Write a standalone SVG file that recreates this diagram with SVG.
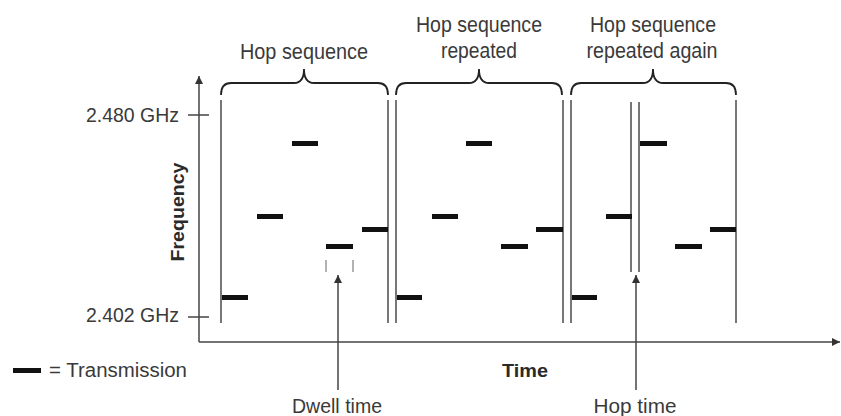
<svg xmlns="http://www.w3.org/2000/svg" width="841" height="416" viewBox="0 0 841 416">
<defs>
<style>
.t{font-family:"Liberation Sans",Arial,sans-serif;font-size:20px;fill:#3a3a3a}
.h{font-family:"Liberation Sans",Arial,sans-serif;font-size:22px;fill:#3a3a3a}
.b{font-family:"Liberation Sans",Arial,sans-serif;font-size:19px;font-weight:bold;fill:#2a2a2a}
.ax{stroke:#444;stroke-width:1.5;fill:none}
.v{stroke:#555;stroke-width:1.6;fill:none}
.br{stroke:#222;stroke-width:1.8;fill:none}
.d{fill:#111}
.dw{stroke:#999;stroke-width:1.5}
</style>
<marker id="ah" viewBox="0 0 10 10" refX="10" refY="5" markerWidth="8" markerHeight="10" markerUnits="userSpaceOnUse" orient="auto">
<path d="M0,0 L10,5 L0,10 z" fill="#333"/>
</marker>
</defs>
<rect width="841" height="416" fill="#fff"/>

<g id="axes">
<line class="ax" x1="199" y1="342" x2="199" y2="76" marker-end="url(#ah)"/>
<line class="ax" x1="199" y1="342" x2="840" y2="342" marker-end="url(#ah)"/>
<line class="ax" x1="188" y1="115" x2="209" y2="115"/>
<line class="ax" x1="188" y1="317" x2="209" y2="317"/>
<text class="t" x="179" y="122" text-anchor="end" textLength="93" lengthAdjust="spacingAndGlyphs">2.480 GHz</text>
<text class="t" x="179" y="322" text-anchor="end" textLength="93" lengthAdjust="spacingAndGlyphs">2.402 GHz</text>
<text class="b" transform="translate(184,212) rotate(-90)" text-anchor="middle" textLength="99" lengthAdjust="spacingAndGlyphs">Frequency</text>
<text class="b" x="502" y="377" textLength="46" lengthAdjust="spacingAndGlyphs">Time</text>
</g>

<g id="seq1">
<path class="br" d="M221,95 Q221,83 231,83 L294,83 Q304,83 304,69 Q304,83 314,83 L378,83 Q388,83 388,95"/>
<text class="h" x="304" y="59" text-anchor="middle" textLength="128" lengthAdjust="spacingAndGlyphs">Hop sequence</text>
<line class="v" x1="221" y1="100" x2="221" y2="323"/>
<line class="v" x1="388" y1="100" x2="388" y2="323"/>
<rect class="d" x="222" y="295" width="26" height="5"/>
<rect class="d" x="257" y="214" width="26" height="5"/>
<rect class="d" x="292" y="141" width="26" height="5"/>
<rect class="d" x="326" y="244" width="27" height="5"/>
<rect class="d" x="362" y="227" width="26" height="5"/>
</g>

<g id="seq2">
<path class="br" d="M396,95 Q396,83 406,83 L469,83 Q479,83 479,69 Q479,83 489,83 L552,83 Q562,83 562,95"/>
<text class="h" x="479" y="32" text-anchor="middle" textLength="126" lengthAdjust="spacingAndGlyphs">Hop sequence</text>
<text class="h" x="479" y="58" text-anchor="middle" textLength="76" lengthAdjust="spacingAndGlyphs">repeated</text>
<line class="v" x1="396" y1="100" x2="396" y2="323"/>
<line class="v" x1="563" y1="100" x2="563" y2="323"/>
<rect class="d" x="397" y="295" width="25" height="5"/>
<rect class="d" x="432" y="214" width="26" height="5"/>
<rect class="d" x="466" y="141" width="26" height="5"/>
<rect class="d" x="501" y="244" width="27" height="5"/>
<rect class="d" x="536" y="227" width="27" height="5"/>
</g>

<g id="seq3">
<path class="br" d="M571,95 Q571,83 581,83 L643,83 Q653,83 653,69 Q653,83 663,83 L726,83 Q736,83 736,95"/>
<text class="h" x="653" y="32" text-anchor="middle" textLength="126" lengthAdjust="spacingAndGlyphs">Hop sequence</text>
<text class="h" x="652" y="58" text-anchor="middle" textLength="131" lengthAdjust="spacingAndGlyphs">repeated again</text>
<line class="v" x1="571" y1="100" x2="571" y2="323"/>
<line class="v" x1="631" y1="102" x2="631" y2="272"/>
<line class="v" x1="639" y1="102" x2="639" y2="272"/>
<line class="v" x1="736" y1="100" x2="736" y2="323"/>
<rect class="d" x="572" y="295" width="25" height="5"/>
<rect class="d" x="606" y="214" width="26" height="5"/>
<rect class="d" x="640" y="141" width="27" height="5"/>
<rect class="d" x="675" y="244" width="27" height="5"/>
<rect class="d" x="710" y="227" width="26" height="5"/>
</g>

<g id="dwell">
<line class="dw" x1="326" y1="260" x2="326" y2="272"/>
<line class="dw" x1="353" y1="260" x2="353" y2="272"/>
<line class="ax" x1="338" y1="390" x2="338" y2="275" marker-end="url(#ah)"/>
<text class="t" x="337" y="413" text-anchor="middle" textLength="90" lengthAdjust="spacingAndGlyphs">Dwell time</text>
</g>

<g id="hop">
<line class="ax" x1="636" y1="390" x2="636" y2="275" marker-end="url(#ah)"/>
<text class="t" x="635" y="413" text-anchor="middle" textLength="83" lengthAdjust="spacingAndGlyphs">Hop time</text>
</g>

<g id="legend">
<rect class="d" x="13" y="368" width="28" height="5"/>
<text class="t" x="49" y="377" textLength="138" lengthAdjust="spacingAndGlyphs">= Transmission</text>
</g>
</svg>
